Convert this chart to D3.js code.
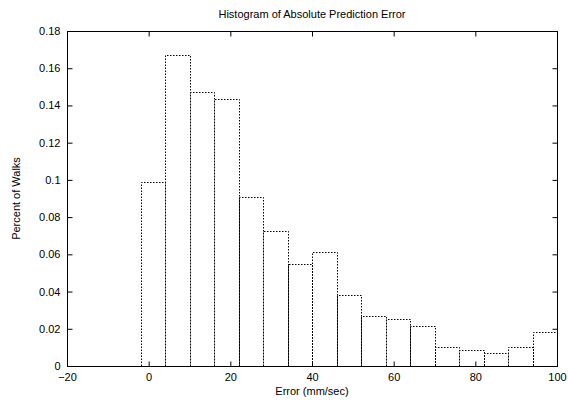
<!DOCTYPE html>
<html>
<head>
<meta charset="utf-8">
<script src="https://cdn.jsdelivr.net/npm/d3@7"></script>
<style>
  html, body { margin: 0; padding: 0; background: #fff; }
  svg { display: block; }
  text { font-family: "Liberation Sans", Arial, Helvetica, sans-serif; fill: #000; }
</style>
</head>
<body>
<svg id="chart" width="568" height="401"></svg>
<script>
const title = "Histogram of Absolute Prediction Error";
const xLabel = "Error (mm/sec)";
const yLabel = "Percent of Walks";
const binLeft  = [-2, 4, 10, 16, 22, 28, 34, 40, 46, 52, 58, 64, 70, 76, 82, 88, 94];
const binRight = [4, 10, 16, 22, 28, 34, 40, 46, 52, 58, 64, 70, 76, 82, 88, 94, 100];
const percent  = [0.099, 0.167, 0.147, 0.1435, 0.091, 0.0728, 0.0548, 0.0615, 0.0383, 0.0267, 0.0251, 0.0217, 0.0104, 0.0086, 0.0068, 0.0104, 0.0184];
const xTicks = [-20, 0, 20, 40, 60, 80, 100];
const yTicks = [0, 0.02, 0.04, 0.06, 0.08, 0.1, 0.12, 0.14, 0.16, 0.18];

const svg = d3.select("#chart");
const L = 67, R = 557, T = 31, B = 366;
const x = d3.scaleLinear().domain([-20, 100]).range([L, R]);
const y = d3.scaleLinear().domain([0, 0.18]).range([B, T]);
const fmtY = d => d === 0 ? "0" : String(+d.toFixed(2));

// bars (dotted outlines)
const bars = svg.append("g").attr("fill", "none").attr("stroke", "#000")
  .attr("stroke-width", 1).attr("stroke-dasharray", "1.5,1.5");
percent.forEach((v, i) => {
  const x0 = Math.round(x(binLeft[i])) + 0.5, x1 = Math.round(x(binRight[i])) + 0.5, yt = Math.round(y(v)) + 0.5;
  bars.append("path").attr("d", `M${x0},${B}V${yt}H${x1}V${B}`);
});

// axes with inward ticks (gnuplot style), mirrored
const tick = 5;
const gB = svg.append("g").attr("transform", `translate(0,${B + 0.5})`)
  .call(d3.axisBottom(x).tickValues(xTicks).tickSize(-tick).tickPadding(7).tickFormat(d3.format("d")));
const gT = svg.append("g").attr("transform", `translate(0,${T + 0.5})`)
  .call(d3.axisTop(x).tickValues(xTicks).tickSize(-tick).tickFormat(""));
const gL = svg.append("g").attr("transform", `translate(${L + 0.5},0)`)
  .call(d3.axisLeft(y).tickValues(yTicks).tickSize(-tick).tickPadding(7).tickFormat(fmtY));
const gR = svg.append("g").attr("transform", `translate(${R + 0.5},0)`)
  .call(d3.axisRight(y).tickValues(yTicks).tickSize(-tick).tickFormat(""));
[gB, gT, gL, gR].forEach(g => {
  g.select(".domain").remove();
  g.selectAll("line").attr("stroke", "#000");
  g.selectAll("text").attr("font-size", 11).attr("font-family", "Liberation Sans, Arial, sans-serif").attr("fill", "#000");
});
// frame
svg.append("rect").attr("x", L + 0.5).attr("y", T + 0.5).attr("width", R - L).attr("height", B - T)
  .attr("fill", "none").attr("stroke", "#000").attr("stroke-width", 1);

svg.append("text").attr("x", (L + R) / 2).attr("y", 18).attr("text-anchor", "middle")
  .attr("font-size", 11).text(title);
svg.append("text").attr("x", (L + R) / 2).attr("y", 395).attr("text-anchor", "middle")
  .attr("font-size", 11).text(xLabel);
svg.append("text").attr("transform", `translate(20,${(T + B) / 2}) rotate(-90)`).attr("text-anchor", "middle")
  .attr("font-size", 11).text(yLabel);
</script>
</body>
</html>
